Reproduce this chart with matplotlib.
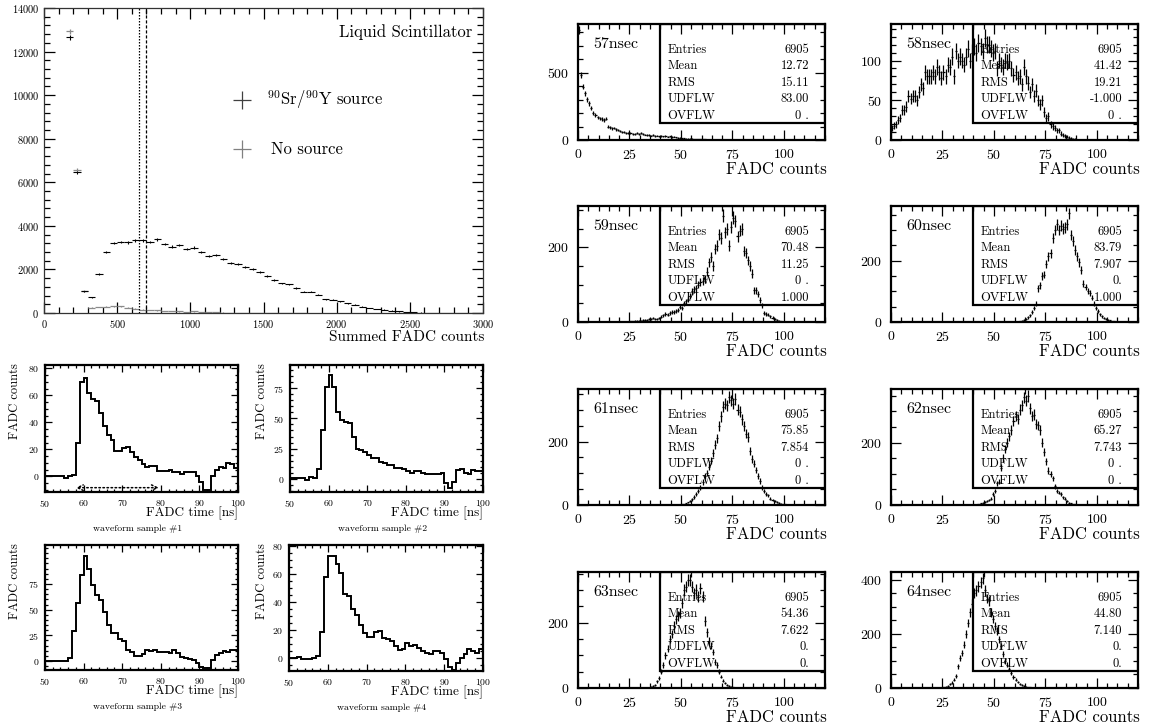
import numpy as np
import matplotlib
matplotlib.use('Agg')
import matplotlib.pyplot as plt
from matplotlib.ticker import MultipleLocator, FixedLocator
from matplotlib.patches import Rectangle

W, H = 1149, 725

plt.rcParams['font.family'] = ['cmr10', 'DejaVu Serif']
plt.rcParams['mathtext.fontset'] = 'cm'
plt.rcParams['axes.formatter.use_mathtext'] = True

# ---- summed FADC spectrum (50-count bins starting at 150) ----
main_first_edge = 150
main_bin_width = 50
sr_counts = [12650, 6460, 995, 720, 1790, 2800, 3210, 3260, 3240, 3335, 3335, 3260,
             3380, 3170, 3045, 3120, 2950, 3000, 2815, 2600, 2650, 2460, 2280, 2235,
             2095, 2000, 1865, 1700, 1530, 1360, 1315, 1150, 980, 980, 840, 640,
             610, 535, 445, 380, 290, 230, 185, 150, 105, 75, 45,
             30, 20, 12, 8, 5, 3, 2, 1, 1, 0]
nosrc_counts = [12930, 6580, 1010, 250, 270, 290, 300, 310, 250, 200, 160, 140,
                120, 100, 85, 70, 60, 70, 60, 40, 30, 20, 15, 10, 8, 6, 5, 4, 3, 2,
                2, 1, 1]
cut_lines = [650, 700]

# ---- waveform samples (1 ns bins, 50..100 ns) ----
wf_edges = list(range(50, 101))
wf1 = [0, 0, 0, 0, 0, -1, 0, 1, 25, 70, 73, 62, 57, 56, 47, 37, 31, 27, 19, 19,
       21, 22, 18, 14, 12, 9, 7, 8, 8, 4, 4, 4, 5, 3, 3, 2, 3, 3, 3, 0,
       -4, -10, -10, 0, 5, 7, 6, 10, 9, 6]
wf2 = [0.5, 0.5, 0.5, 0.5, -1, 1.5, 0.5, 8, 40, 76, 86, 76, 55, 49, 47, 46, 35, 25, 24, 22,
       20, 17.5, 17, 14, 13, 11, 11, 9, 9, 8, 6.4, 5, 6, 6, 5, 3.5, 4, 3.5, 4, 5,
       -4, -8, -3, 7, 8, 5, 4, 7, 6, 6]
wf3 = [-0.5, 0, 0, 0, 0, 0, 3, 29, 56, 84, 102, 90, 74, 64, 59, 48, 35, 27, 27, 21,
       19.5, 10.7, 9, 5.2, 5.2, 6.5, 10.7, 9.7, 10.7, 9, 8.4, 9, 7.5, 10.4, 7.5, 4.2, 3.2, 2, 1, -2.3,
       -5.5, -7.1, -6.5, 1, 5.8, 7.5, 9.7, 9, 10.4, 10.7]
wf4 = [0.5, 0.5, 1, -0.5, -0.5, -0.5, 0.5, 2, 19, 58, 72.5, 72.5, 67, 60.5, 46, 44, 35, 30.5, 23.5, 18,
       15, 15, 19, 19.5, 14.5, 13.5, 12, 9, 6, 6.5, 11, 9, 9.5, 7.5, 5, 4, 3, 5, 5, 3.5,
       -0.5, -6.5, -8, -3, 0.5, 3, 6.5, 5.5, 4, 6.5]
wf_ylims = [(-11.6, 82.5), (-11.1, 94.4), (-8.8, 113), (-9, 80.5)]
wf_yticks = [[0, 20, 40, 60, 80], [0, 25, 50, 75], [0, 25, 50, 75], [0, 20, 40, 60, 80]]
wf_titles = ['waveform sample #1', 'waveform sample #2', 'waveform sample #3', 'waveform sample #4']

# ---- per-time-slice FADC distributions (1-count bins) ----
hist_labels = ['57nsec', '58nsec', '59nsec', '60nsec', '61nsec', '62nsec', '63nsec', '64nsec']
hist_first_bin = [0, 0, 25, 62, 50, 42, 35, 25]
h57 = [817, 483, 396, 347, 302, 272, 235, 198, 186, 168, 161, 156, 149, 158, 99, 94, 87, 89,
       79, 74, 67, 62, 57, 54, 50, 50, 45, 47, 50, 45, 50, 42, 40, 37, 36, 33, 35, 30, 32, 28,
       30, 27, 29, 25, 26, 22, 24, 20, 17, 15, 14, 12, 11, 10, 9, 9, 7, 6, 6, 5, 4, 4, 3, 3,
       2, 2, 2, 1, 1, 1, 1]
h58 = [15, 18, 20, 25, 28, 38, 38, 42, 55, 52, 55, 55, 50, 60, 70, 65, 85, 80, 80, 80,
       85, 80, 92, 85, 78, 85, 80, 95, 92, 105, 80, 112, 100, 105, 100, 95, 105, 115, 100, 110,
       118, 110, 122, 118, 112, 128, 120, 120, 115, 110, 112, 90, 100, 95, 92, 100, 98, 100, 90, 82,
       85, 78, 80, 70, 92, 80, 72, 60, 70, 55, 62, 50, 45, 50, 35, 28, 30, 20, 17, 15,
       12, 12, 8, 6, 5, 4, 3, 2, 1, 1]
h59 = [2, 2, 3, 3, 4, 4, 5, 5, 6, 8, 7, 10, 8, 9, 10, 14, 18, 22, 20, 25,
       28, 26, 30, 33, 40, 38, 50, 55, 62, 70, 82, 88, 90, 100, 108, 110, 115, 135, 160, 175,
       150, 195, 205, 235, 225, 285, 240, 250, 205, 255, 280, 270, 230, 245, 250, 190, 185, 165, 150, 130,
       85, 85, 75, 60, 45, 25, 22, 20, 15, 12, 8, 5, 3, 2, 1]
h60 = [2, 4, 6, 10, 15, 22, 32, 45, 60, 110, 120, 150, 155, 190, 215, 225, 275, 300, 320, 300,
       315, 305, 310, 320, 355, 285, 265, 235, 215, 195, 170, 125, 115, 100, 95, 80, 60, 45, 35, 25,
       18, 14, 10, 8, 5, 3, 2]
h61 = [2, 3, 5, 8, 12, 18, 25, 35, 45, 55, 72, 90, 100, 120, 140, 165, 190, 210, 250, 280,
       310, 320, 315, 340, 330, 320, 335, 300, 295, 270, 250, 225, 215, 170, 145, 130, 110, 90, 75, 55,
       45, 35, 30, 20, 15, 12, 10, 6, 4, 3, 2, 1, 1]
h62 = [3, 5, 8, 10, 12, 16, 20, 35, 45, 70, 75, 120, 150, 180, 200, 220, 240, 270, 285, 275,
       305, 320, 345, 335, 350, 310, 285, 290, 260, 255, 240, 200, 170, 140, 110, 100, 85, 60, 45, 40,
       35, 25, 20, 12, 8, 5, 3, 2]
h63 = [3, 6, 10, 20, 30, 50, 70, 100, 120, 150, 165, 190, 210, 220, 230, 260, 300, 310, 330, 330,
       310, 290, 300, 280, 305, 280, 205, 170, 145, 130, 110, 80, 70, 50, 35, 22, 15, 10, 7, 4,
       2, 1]
h64 = [3, 5, 8, 14, 20, 30, 45, 80, 110, 130, 160, 200, 240, 280, 310, 350, 360, 375, 390, 405,
       360, 330, 320, 280, 255, 230, 210, 180, 155, 125, 100, 85, 70, 55, 40, 30, 22, 15, 10, 7,
       5, 3, 2, 1]
hist_counts = [h57, h58, h59, h60, h61, h62, h63, h64]
hist_ymax = [861, 146, 311, 379, 366, 372, 355, 428]
hist_ymajor = [500, 50, 200, 200, 200, 200, 200, 200]
hist_yminor = [100, 10, 50, 50, 50, 50, 50, 50]
stat_entries = ['6905'] * 8
stat_mean = ['12.72', '41.42', '70.48', '83.79', '75.85', '65.27', '54.36', '44.80']
stat_rms = ['15.11', '19.21', '11.25', '7.907', '7.854', '7.743', '7.622', '7.140']
stat_udflw = ['83.00', '-1.000', '0 .', '0.', '0 .', '0 .', '0.', '0.']
stat_ovflw = ['0 .', '0 .', '1.000', '1.000', '0 .', '0 .', '0.', '0.']

fig = plt.figure(figsize=(W / 100, H / 100), dpi=100)


def axes_px(x0, y0, x1, y1):
    return fig.add_axes([x0 / W, 1 - y1 / H, (x1 - x0) / W, (y1 - y0) / H])


def ftext(x, y, s, **kw):
    return fig.text(x / W, 1 - y / H, s, **kw)


def frame(ax, lw, size, major, minor, pad=3.5):
    for sp in ax.spines.values():
        sp.set_linewidth(lw)
    ax.tick_params(which='both', direction='in', top=True, right=True,
                   labelsize=size, width=0.9, pad=pad)
    ax.tick_params(which='major', length=major)
    ax.tick_params(which='minor', length=minor)


# main spectrum
ax = axes_px(44, 8, 483, 313)
sr = np.array(sr_counts, dtype=float)
ns = np.array(nosrc_counts, dtype=float)
xc_sr = main_first_edge + main_bin_width * (np.arange(len(sr)) + 0.5)
xc_ns = main_first_edge + main_bin_width * (np.arange(len(ns)) + 0.5)
ax.errorbar(xc_ns, ns, yerr=np.sqrt(ns), xerr=main_bin_width / 2, fmt='none',
            ecolor='#8a8a8a', elinewidth=0.9)
ax.errorbar(xc_sr, sr, yerr=np.sqrt(sr), xerr=main_bin_width / 2, fmt='none',
            ecolor='black', elinewidth=0.8)
ax.axvline(cut_lines[0], color='black', lw=0.9, ls=(0, (1.2, 1.2)))
ax.axvline(cut_lines[1], color='black', lw=0.9, ls=(0, (2.5, 1.5)))
ax.set_xlim(0, 3000)
ax.set_ylim(0, 14000)
ax.xaxis.set_major_locator(MultipleLocator(500))
ax.xaxis.set_minor_locator(MultipleLocator(100))
ax.yaxis.set_major_locator(MultipleLocator(2000))
ax.yaxis.set_minor_locator(MultipleLocator(400))
frame(ax, 0.9, 7.5, 8, 4)
for sp in ax.spines.values():
    sp.set_edgecolor('#333333')
ax.text(0.975, 0.921, 'Liquid Scintillator', transform=ax.transAxes,
        ha='right', va='center', fontsize=12)
ax.plot([0.451], [0.698], marker='+', ms=13, mew=0.9, color='#404040',
        transform=ax.transAxes, clip_on=False)
ax.plot([0.451], [0.538], marker='+', ms=13, mew=0.9, color='#808080',
        transform=ax.transAxes, clip_on=False)
ax.text(0.508, 0.698, r'$^{90}$Sr/$^{90}$Y source', transform=ax.transAxes,
        ha='left', va='center', fontsize=12)
ax.text(0.517, 0.538, 'No source', transform=ax.transAxes,
        ha='left', va='center', fontsize=12)
ftext(484, 337, 'Summed FADC counts', ha='right', va='center', fontsize=11)

# waveform samples
wf_data = [wf1, wf2, wf3, wf4]
wf_boxes = [(45, 365, 238, 492), (290, 365, 483, 492),
            (45, 545, 238, 670), (289, 545, 483, 671)]
wf_ylab_x = [15, 262, 15, 262]
for i, vals in enumerate(wf_data):
    x0, y0, x1, y1 = wf_boxes[i]
    a = axes_px(x0, y0, x1, y1)
    a.stairs(vals, wf_edges, color='black', lw=1.4, baseline=None)
    a.set_xlim(50, 100)
    a.set_ylim(*wf_ylims[i])
    a.xaxis.set_major_locator(MultipleLocator(10))
    a.xaxis.set_minor_locator(MultipleLocator(2))
    a.yaxis.set_major_locator(FixedLocator(wf_yticks[i]))
    a.yaxis.set_minor_locator(MultipleLocator(5))
    frame(a, 1.6, 7, 5, 2.5, pad=4)
    if i == 0:
        a.annotate('', xy=(57.3, -8.4), xytext=(80.2, -8.4),
                   arrowprops=dict(arrowstyle='<->', ls=':', lw=1.1, color='black'))
    ftext(x1, y1 + 21, 'FADC time [ns]', ha='right', va='center', fontsize=9.5)
    ftext((x0 + x1) / 2 - 4, y1 + 37, wf_titles[i], ha='center', va='center', fontsize=7)
    ftext(wf_ylab_x[i], y0 - 2, 'FADC counts', rotation=90, ha='center', va='top', fontsize=9)

# FADC distributions per time slice
col_x = [578, 891]
row_y = [24, 206, 389, 572]
for k in range(8):
    x0 = col_x[k % 2]
    y0 = row_y[k // 2]
    a = axes_px(x0, y0, x0 + 247, y0 + 116)
    c = np.array(hist_counts[k], dtype=float)
    xc = hist_first_bin[k] + np.arange(len(c)) + 0.5
    m = c > 0
    a.errorbar(xc[m], c[m], yerr=np.sqrt(c[m]), xerr=0.5, fmt='none',
               ecolor='black', elinewidth=0.9, zorder=4)
    a.set_xlim(0, 120)
    a.set_ylim(0, hist_ymax[k])
    a.xaxis.set_major_locator(MultipleLocator(25))
    a.xaxis.set_minor_locator(MultipleLocator(5))
    a.yaxis.set_major_locator(MultipleLocator(hist_ymajor[k]))
    a.yaxis.set_minor_locator(MultipleLocator(hist_yminor[k]))
    frame(a, 1.6, 10, 7, 3.5, pad=6)
    a.add_patch(Rectangle((1 / 3, 0.15), 2 / 3, 0.85, transform=a.transAxes,
                          fill=False, lw=1.6, ec='black', zorder=3))
    a.text(0.062, 0.83, hist_labels[k], transform=a.transAxes, ha='left',
           va='center', fontsize=11.5)
    rows = [('Entries', stat_entries[k]), ('Mean', stat_mean[k]), ('RMS', stat_rms[k]),
            ('UDFLW', stat_udflw[k]), ('OVFLW', stat_ovflw[k])]
    for j, (name, val) in enumerate(rows):
        yy = 0.78 - j * 0.143
        a.text(0.363, yy, name, transform=a.transAxes, ha='left', va='center',
               fontsize=9, zorder=2)
        a.text(0.936, yy, val, transform=a.transAxes, ha='right', va='center',
               fontsize=9, zorder=2)
    ftext(x0 + 249, y0 + 145, 'FADC counts', ha='right', va='center', fontsize=12)

fig.savefig('out.png', dpi=100)
